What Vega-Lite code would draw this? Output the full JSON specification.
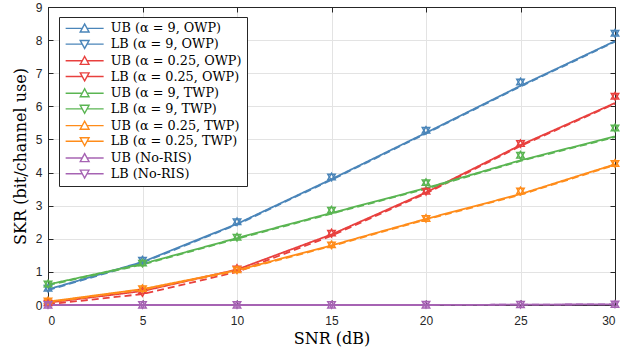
{
  "$schema": "https://vega.github.io/schema/vega-lite/v6.json",
  "width": 567,
  "height": 298,
  "autosize": "none",
  "padding": {"left": 48, "top": 7, "right": 26, "bottom": 46},
  "background": "white",
  "config": {
    "view": {"stroke": "#262626", "strokeWidth": 1},
    "axis": {
      "labelFont": "Liberation Sans",
      "labelFontSize": 12,
      "labelColor": "#262626",
      "domainColor": "#262626",
      "tickColor": "#262626",
      "titleColor": "black",
      "titleFont": "DejaVu Serif",
      "titleFontSize": 16,
      "titleFontWeight": "normal",
      "gridColor": "#e3e3e3",
      "tickSize": -5
    }
  },
  "data": {
    "values": [
      {"s": "UB (α = 9, OWP)", "b": "UB", "x": 0, "l": 0.47, "m": 0.52},
      {"s": "UB (α = 9, OWP)", "b": "UB", "x": 5, "l": 1.30, "m": 1.37},
      {"s": "UB (α = 9, OWP)", "b": "UB", "x": 10, "l": 2.45, "m": 2.53},
      {"s": "UB (α = 9, OWP)", "b": "UB", "x": 15, "l": 3.80, "m": 3.88},
      {"s": "UB (α = 9, OWP)", "b": "UB", "x": 20, "l": 5.20, "m": 5.29},
      {"s": "UB (α = 9, OWP)", "b": "UB", "x": 25, "l": 6.62, "m": 6.75},
      {"s": "UB (α = 9, OWP)", "b": "UB", "x": 30, "l": 7.97, "m": 8.22},
      {"s": "LB (α = 9, OWP)", "b": "LB", "x": 0, "l": 0.45, "m": 0.49},
      {"s": "LB (α = 9, OWP)", "b": "LB", "x": 5, "l": 1.28, "m": 1.34},
      {"s": "LB (α = 9, OWP)", "b": "LB", "x": 10, "l": 2.43, "m": 2.50},
      {"s": "LB (α = 9, OWP)", "b": "LB", "x": 15, "l": 3.78, "m": 3.85},
      {"s": "LB (α = 9, OWP)", "b": "LB", "x": 20, "l": 5.18, "m": 5.26},
      {"s": "LB (α = 9, OWP)", "b": "LB", "x": 25, "l": 6.60, "m": 6.72},
      {"s": "LB (α = 9, OWP)", "b": "LB", "x": 30, "l": 7.95, "m": 8.19},
      {"s": "UB (α = 0.25, OWP)", "b": "UB", "x": 0, "l": 0.07, "m": 0.08},
      {"s": "UB (α = 0.25, OWP)", "b": "UB", "x": 5, "l": 0.42, "m": 0.45},
      {"s": "UB (α = 0.25, OWP)", "b": "UB", "x": 10, "l": 1.07, "m": 1.12},
      {"s": "UB (α = 0.25, OWP)", "b": "UB", "x": 15, "l": 2.13, "m": 2.19},
      {"s": "UB (α = 0.25, OWP)", "b": "UB", "x": 20, "l": 3.40, "m": 3.45},
      {"s": "UB (α = 0.25, OWP)", "b": "UB", "x": 25, "l": 4.83, "m": 4.89},
      {"s": "UB (α = 0.25, OWP)", "b": "UB", "x": 30, "l": 6.10, "m": 6.32},
      {"s": "LB (α = 0.25, OWP)", "b": "LB", "x": 0, "l": 0.02, "m": 0.04},
      {"s": "LB (α = 0.25, OWP)", "b": "LB", "x": 5, "l": 0.33, "m": 0.36},
      {"s": "LB (α = 0.25, OWP)", "b": "LB", "x": 10, "l": 1.00, "m": 1.07},
      {"s": "LB (α = 0.25, OWP)", "b": "LB", "x": 15, "l": 2.09, "m": 2.15},
      {"s": "LB (α = 0.25, OWP)", "b": "LB", "x": 20, "l": 3.37, "m": 3.42},
      {"s": "LB (α = 0.25, OWP)", "b": "LB", "x": 25, "l": 4.80, "m": 4.86},
      {"s": "LB (α = 0.25, OWP)", "b": "LB", "x": 30, "l": 6.08, "m": 6.29},
      {"s": "UB (α = 9, TWP)", "b": "UB", "x": 0, "l": 0.62, "m": 0.65},
      {"s": "UB (α = 9, TWP)", "b": "UB", "x": 5, "l": 1.24, "m": 1.28},
      {"s": "UB (α = 9, TWP)", "b": "UB", "x": 10, "l": 2.02, "m": 2.06},
      {"s": "UB (α = 9, TWP)", "b": "UB", "x": 15, "l": 2.78, "m": 2.88},
      {"s": "UB (α = 9, TWP)", "b": "UB", "x": 20, "l": 3.53, "m": 3.71},
      {"s": "UB (α = 9, TWP)", "b": "UB", "x": 25, "l": 4.37, "m": 4.54},
      {"s": "UB (α = 9, TWP)", "b": "UB", "x": 30, "l": 5.09, "m": 5.36},
      {"s": "LB (α = 9, TWP)", "b": "LB", "x": 0, "l": 0.60, "m": 0.62},
      {"s": "LB (α = 9, TWP)", "b": "LB", "x": 5, "l": 1.22, "m": 1.25},
      {"s": "LB (α = 9, TWP)", "b": "LB", "x": 10, "l": 2.00, "m": 2.03},
      {"s": "LB (α = 9, TWP)", "b": "LB", "x": 15, "l": 2.76, "m": 2.85},
      {"s": "LB (α = 9, TWP)", "b": "LB", "x": 20, "l": 3.51, "m": 3.68},
      {"s": "LB (α = 9, TWP)", "b": "LB", "x": 25, "l": 4.35, "m": 4.51},
      {"s": "LB (α = 9, TWP)", "b": "LB", "x": 30, "l": 5.07, "m": 5.33},
      {"s": "UB (α = 0.25, TWP)", "b": "UB", "x": 0, "l": 0.10, "m": 0.14},
      {"s": "UB (α = 0.25, TWP)", "b": "UB", "x": 5, "l": 0.48, "m": 0.51},
      {"s": "UB (α = 0.25, TWP)", "b": "UB", "x": 10, "l": 1.05, "m": 1.08},
      {"s": "UB (α = 0.25, TWP)", "b": "UB", "x": 15, "l": 1.80, "m": 1.83},
      {"s": "UB (α = 0.25, TWP)", "b": "UB", "x": 20, "l": 2.60, "m": 2.63},
      {"s": "UB (α = 0.25, TWP)", "b": "UB", "x": 25, "l": 3.35, "m": 3.46},
      {"s": "UB (α = 0.25, TWP)", "b": "UB", "x": 30, "l": 4.25, "m": 4.29},
      {"s": "LB (α = 0.25, TWP)", "b": "LB", "x": 0, "l": 0.08, "m": 0.11},
      {"s": "LB (α = 0.25, TWP)", "b": "LB", "x": 5, "l": 0.46, "m": 0.48},
      {"s": "LB (α = 0.25, TWP)", "b": "LB", "x": 10, "l": 1.03, "m": 1.05},
      {"s": "LB (α = 0.25, TWP)", "b": "LB", "x": 15, "l": 1.78, "m": 1.80},
      {"s": "LB (α = 0.25, TWP)", "b": "LB", "x": 20, "l": 2.58, "m": 2.60},
      {"s": "LB (α = 0.25, TWP)", "b": "LB", "x": 25, "l": 3.33, "m": 3.43},
      {"s": "LB (α = 0.25, TWP)", "b": "LB", "x": 30, "l": 4.23, "m": 4.26},
      {"s": "UB (No-RIS)", "b": "UB", "x": 0, "l": 0.0, "m": 0.01},
      {"s": "UB (No-RIS)", "b": "UB", "x": 5, "l": 0.0, "m": 0.01},
      {"s": "UB (No-RIS)", "b": "UB", "x": 10, "l": 0.0, "m": 0.01},
      {"s": "UB (No-RIS)", "b": "UB", "x": 15, "l": 0.0, "m": 0.01},
      {"s": "UB (No-RIS)", "b": "UB", "x": 20, "l": 0.0, "m": 0.01},
      {"s": "UB (No-RIS)", "b": "UB", "x": 25, "l": 0.01, "m": 0.02},
      {"s": "UB (No-RIS)", "b": "UB", "x": 30, "l": 0.02, "m": 0.03},
      {"s": "LB (No-RIS)", "b": "LB", "x": 0, "l": 0.0, "m": 0.0},
      {"s": "LB (No-RIS)", "b": "LB", "x": 5, "l": 0.0, "m": 0.0},
      {"s": "LB (No-RIS)", "b": "LB", "x": 10, "l": 0.0, "m": 0.0},
      {"s": "LB (No-RIS)", "b": "LB", "x": 15, "l": 0.0, "m": 0.0},
      {"s": "LB (No-RIS)", "b": "LB", "x": 20, "l": 0.0, "m": 0.01},
      {"s": "LB (No-RIS)", "b": "LB", "x": 25, "l": 0.01, "m": 0.01},
      {"s": "LB (No-RIS)", "b": "LB", "x": 30, "l": 0.02, "m": 0.02}
    ]
  },
  "encoding": {
    "color": {
      "field": "s",
      "type": "nominal",
      "scale": {
        "domain": ["UB (α = 9, OWP)", "LB (α = 9, OWP)", "UB (α = 0.25, OWP)", "LB (α = 0.25, OWP)", "UB (α = 9, TWP)", "LB (α = 9, TWP)", "UB (α = 0.25, TWP)", "LB (α = 0.25, TWP)", "UB (No-RIS)", "LB (No-RIS)"],
        "range": ["#4a85b9", "#4a85b9", "#e8403e", "#e8403e", "#5ab552", "#5ab552", "#ff8c1a", "#ff8c1a", "#a663b3", "#a663b3"]
      },
      "legend": {
        "title": null,
        "orient": "none",
        "legendX": 11,
        "legendY": 10,
        "padding": 5,
        "strokeColor": "#262626",
        "fillColor": "white",
        "labelFont": "DejaVu Serif",
        "labelFontSize": 12.8,
        "labelColor": "black",
        "labelOffset": 34,
        "rowPadding": 1.7,
        "symbolSize": 64,
        "symbolStrokeWidth": 1.4,
        "encode": {
          "symbols": {
            "update": {
              "shape": {"signal": "test(/^UB/, datum.value) ? 'M-1.19,0H2.96M4.16,0H8.31M2.46,0.9H4.66L3.56,-1.1Z' : 'M-1.19,0H2.96M4.16,0H8.31M2.46,-0.9H4.66L3.56,1.1Z'"},
              "fill": {"value": "transparent"},
              "strokeDash": {"value": [1, 0]}
            }
          }
        }
      }
    }
  },
  "layer": [
    {
      "mark": {"type": "line", "strokeWidth": 1.8},
      "encoding": {
        "x": {"field": "x", "type": "quantitative", "scale": {"domain": [0, 30], "nice": false},
              "axis": {"orient": "bottom", "values": [0, 5, 10, 15, 20, 25, 30], "grid": true, "title": "SNR (dB)", "labelPadding": 15, "titlePadding": 4}},
        "y": {"field": "l", "type": "quantitative", "scale": {"domain": [0, 9], "nice": false},
              "axis": {"orient": "left", "values": [0, 1, 2, 3, 4, 5, 6, 7, 8, 9], "grid": true, "title": "SKR (bit/channel use)", "labelPadding": 11, "titleX": -28, "titleBaseline": "middle"}},
        "strokeDash": {"field": "b", "type": "nominal", "scale": {"domain": ["UB", "LB"], "range": [[1, 0], [7, 4]]}, "legend": null},
        "order": {"field": "x", "type": "quantitative"}
      }
    },
    {
      "mark": {"type": "point", "filled": false, "strokeWidth": 1.5, "size": 55, "opacity": 1},
      "encoding": {
        "x": {"field": "x", "type": "quantitative",
              "axis": {"orient": "top", "values": [0, 5, 10, 15, 20, 25, 30], "grid": false, "labels": false, "title": null}},
        "y": {"field": "m", "type": "quantitative",
              "axis": {"orient": "right", "values": [0, 1, 2, 3, 4, 5, 6, 7, 8, 9], "grid": false, "labels": false, "title": null}},
        "shape": {"field": "b", "type": "nominal", "scale": {"domain": ["UB", "LB"], "range": ["triangle-up", "triangle-down"]}, "legend": null}
      }
    }
  ],
  "resolve": {"axis": {"x": "independent", "y": "independent"}}
}
